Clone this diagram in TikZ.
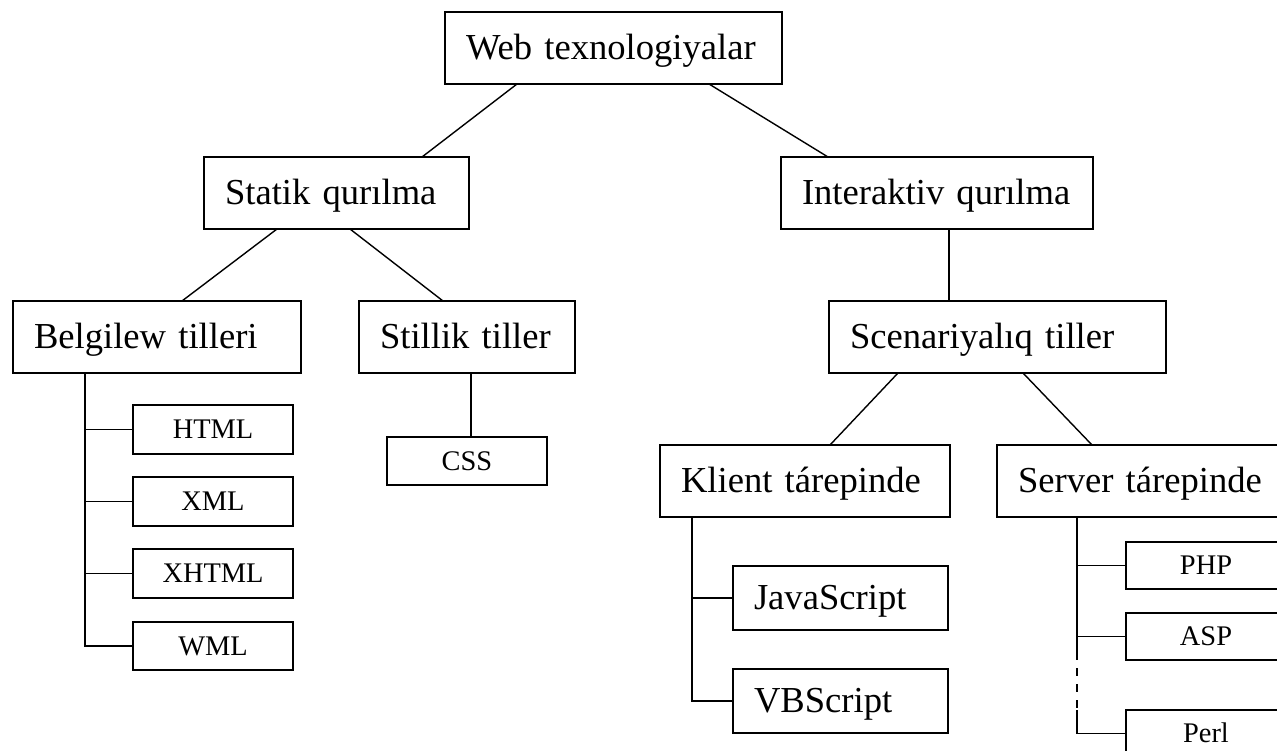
\documentclass[tikz,border=0pt]{standalone}
\usepackage{fontspec}
\setmainfont{Liberation Serif}
\tikzset{
  bigbox/.style={draw, line width=1.4pt, anchor=north west, outer sep=0pt,
    inner xsep=21pt, inner ysep=0pt, align=left, minimum height=72pt,
    text height=31pt, text depth=7.3pt, font=\fontsize{36.6}{40}\selectfont},
  smallbox/.style={draw, line width=1.4pt, anchor=north west, outer sep=0pt,
    inner sep=0pt, minimum width=160pt, minimum height=48pt,
    text height=24pt, text depth=5.7pt, font=\fontsize{28.4}{32}\selectfont},
  link/.style={line width=1.4pt}
}
\begin{document}
\begin{tikzpicture}[x=1pt, y=-1pt]
  \useasboundingbox (0,0) rectangle (1277,751);
  \clip (0,0) rectangle (1277,751);

  \node[bigbox, text width=295pt] (web) at (445,12) {Web texnologiyalar};
  \node[bigbox, text width=223pt] (statik) at (204,157) {Statik qurılma};
  \node[bigbox, text width=270pt] (interaktiv) at (781,157) {Interaktiv qurılma};
  \node[bigbox, text width=246pt] (belgilew) at (13,301) {Belgilew tilleri};
  \node[bigbox, text width=174pt] (stillik) at (359,301) {Stillik tiller};
  \node[bigbox, text width=295pt] (scenariy) at (829,301) {Scenariyalıq tiller};
  \node[bigbox, text width=248pt] (klient) at (660,445) {Klient tárepinde};
  \node[bigbox, text width=258pt] (server) at (997,445) {Server tárepinde};

  \node[smallbox, minimum height=49pt] (html) at (133,405) {HTML};
  \node[smallbox, minimum height=49pt] (xml) at (133,477) {XML};
  \node[smallbox, minimum height=49pt] (xhtml) at (133,549) {XHTML};
  \node[smallbox] (wml) at (133,622) {WML};
  \node[smallbox] (css) at (387,437) {CSS};
  \node[bigbox, text width=173pt, minimum height=64pt] (js) at (733,566) {JavaScript};
  \node[bigbox, text width=173pt, minimum height=64pt] (vbs) at (733,669) {VBScript};
  \node[smallbox, minimum height=47pt] (php) at (1126,542) {PHP};
  \node[smallbox, minimum height=47pt] (asp) at (1126,613) {ASP};
  \node[smallbox, minimum height=47pt] (perl) at (1126,710) {Perl};

  \draw[link] ([xshift=-96.5pt]web.south) -- ([xshift=85.5pt]statik.north);
  \draw[link] ([xshift=95.5pt]web.south) -- ([xshift=-109pt]interaktiv.north);
  \draw[link] ([xshift=-59.5pt]statik.south) -- ([xshift=25pt]belgilew.north);
  \draw[link] ([xshift=13.5pt]statik.south) -- ([xshift=-24pt]stillik.north);
  \draw[link] ([xshift=12pt]interaktiv.south) coordinate (itrunk) -- (itrunk |- scenariy.north);
  \draw[link] ([xshift=-99.5pt]scenariy.south) -- ([xshift=25pt]klient.north);
  \draw[link] ([xshift=25.5pt]scenariy.south) -- ([xshift=-55pt]server.north);

  \coordinate (btrunk) at ([xshift=72pt]belgilew.south west);
  \draw[link] (btrunk) |- (wml.west);
  \foreach \n in {html,xml,xhtml}
    \draw[link] (\n.west) -- (\n.west -| btrunk);

  \draw[link] ([xshift=4pt]stillik.south) coordinate (strunk) -- (strunk |- css.north);

  \coordinate (ktrunk) at ([xshift=32pt]klient.south west);
  \draw[link] (ktrunk) |- (vbs.west);
  \draw[link] (js.west) -- (js.west -| ktrunk);

  \coordinate (svtrunk) at ([xshift=80pt]server.south west);
  \draw[link] (svtrunk) -- (svtrunk |- asp.south);
  \draw[link, dash pattern=on 8pt off 8pt, dash phase=8pt] (svtrunk |- asp.south) -- (svtrunk |- perl.north);
  \draw[link] (svtrunk |- perl.north) |- (perl.west);
  \foreach \n in {php,asp}
    \draw[link] (\n.west) -- (\n.west -| svtrunk);
\end{tikzpicture}
\end{document}
